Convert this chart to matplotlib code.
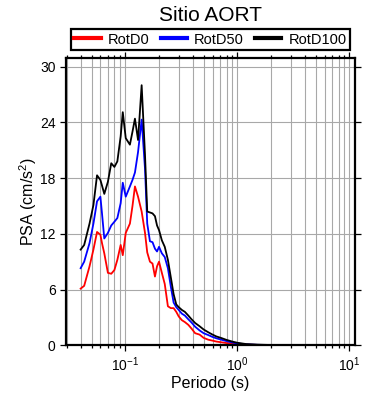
import numpy as np
import matplotlib
matplotlib.use("Agg")
import matplotlib.pyplot as plt
from matplotlib.ticker import LogLocator, NullFormatter

plt.rcParams['font.family'] = ['Liberation Sans', 'DejaVu Sans']
plt.rcParams['mathtext.fontset'] = 'custom'
plt.rcParams['mathtext.rm'] = 'Liberation Sans'
plt.rcParams['mathtext.it'] = 'Liberation Sans:italic'

# periods (s)
periodo = [0.040, 0.043, 0.048, 0.052, 0.056, 0.060, 0.062, 0.065, 0.070, 0.075,
           0.080, 0.085, 0.091, 0.095, 0.101, 0.110, 0.116, 0.122, 0.130, 0.140,
           0.150, 0.157, 0.166, 0.175, 0.184, 0.192, 0.200, 0.212, 0.225, 0.240,
           0.255, 0.270, 0.285, 0.300, 0.320, 0.340, 0.365, 0.390, 0.420, 0.460,
           0.500, 0.550, 0.600, 0.650, 0.720, 0.800, 0.900, 1.00, 1.20, 1.50,
           2.0, 3.0, 5.0, 10.0]

rotd100 = [10.3, 10.8, 13.1, 15.1, 18.3, 17.8, 17.2, 16.3, 17.6, 19.6,
           19.2, 19.8, 22.5, 25.1, 22.3, 21.6, 23.0, 24.4, 22.1, 28.0,
           20.5, 14.4, 14.3, 14.2, 13.9, 12.9, 12.4, 11.3, 10.6, 9.2,
           7.3, 5.5, 4.4, 4.1, 3.8, 3.6, 3.2, 2.8, 2.4, 2.05,
           1.7, 1.4, 1.15, 0.95, 0.78, 0.58, 0.40, 0.27, 0.13, 0.07,
           0.03, 0.015, 0.01, 0.005]

rotd50 = [8.3, 9.0, 11.0, 13.1, 15.5, 16.0, 14.2, 11.5, 12.1, 12.9,
          13.3, 13.7, 15.3, 17.5, 16.0, 17.1, 17.8, 18.6, 20.8, 24.3,
          19.0, 13.1, 11.2, 11.1, 10.4, 10.1, 10.6, 9.9, 9.5, 8.3,
          6.3, 4.6, 4.1, 3.8, 3.4, 3.2, 2.8, 2.45, 2.0, 1.6,
          1.3, 1.1, 0.9, 0.75, 0.6, 0.45, 0.3, 0.2, 0.1, 0.05,
          0.025, 0.012, 0.008, 0.004]

rotd0 = [6.1, 6.4, 8.5, 10.3, 12.2, 11.9, 11.0, 9.9, 7.8, 7.7,
         8.1, 9.2, 10.8, 9.7, 12.1, 13.1, 15.0, 17.1, 16.0, 14.4,
         12.1, 10.0, 9.0, 8.8, 7.4, 8.5, 9.0, 7.8, 6.6, 4.2,
         4.0, 4.0, 3.6, 3.1, 2.7, 2.5, 2.2, 1.8, 1.3, 1.15,
         0.8, 0.6, 0.5, 0.4, 0.32, 0.24, 0.2, 0.14, 0.07, 0.04,
         0.02, 0.01, 0.006, 0.003]

yticks = [0, 6, 12, 18, 24, 30]

fig = plt.figure(figsize=(3.9, 4.0), dpi=100)
ax = fig.add_axes([0.1692, 0.1368, 0.7411, 0.7175])

ax.plot(periodo, rotd0, color='red', lw=1.3, label='RotD0')
ax.plot(periodo, rotd50, color='blue', lw=1.3, label='RotD50')
ax.plot(periodo, rotd100, color='black', lw=1.3, label='RotD100')

ax.set_xscale('log')
ax.set_xlim(0.0296, 11.2)
ax.set_ylim(0, 30.9)
ax.set_yticks(yticks)
ax.xaxis.set_major_locator(LogLocator(base=10, numticks=10))
ax.xaxis.set_minor_locator(LogLocator(base=10, subs=np.arange(2, 10), numticks=20))
ax.xaxis.set_minor_formatter(NullFormatter())

ax.grid(True, which='both', axis='x', color='#a8a8a8', lw=0.8)
ax.grid(True, which='major', axis='y', color='#a8a8a8', lw=0.8)
ax.set_axisbelow(True)

ax.tick_params(which='both', direction='out', top=True, right=True,
               labelsize=10, width=0.9)
ax.tick_params(which='major', length=4)
ax.tick_params(which='minor', length=2.5)
for s in ax.spines.values():
    s.set_linewidth(1.6)

ax.set_xlabel('Periodo (s)', fontsize=11.5, labelpad=1)
ax.set_ylabel('PSA (cm/s$^2$)', fontsize=11.5, labelpad=1)
fig.suptitle('Sitio AORT', fontsize=15, x=0.54, y=0.985)

leg = fig.legend(loc='center', ncol=3,
                 bbox_to_anchor=(210.5 / 390, 1 - 39.6 / 400),
                 fontsize=10.5, frameon=True, fancybox=False, framealpha=1,
                 handlelength=1.8, handletextpad=0.5, columnspacing=0.75,
                 borderpad=0.22)
leg.get_frame().set_edgecolor('black')
leg.get_frame().set_linewidth(1.6)
for line in leg.get_lines():
    line.set_linewidth(3)

fig.savefig('out.png', dpi=100)
